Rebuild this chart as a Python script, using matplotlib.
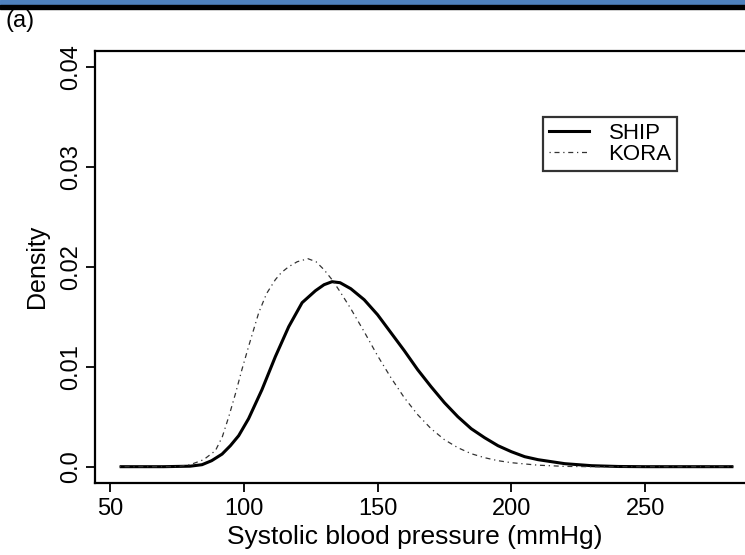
import matplotlib
matplotlib.use("Agg")
import matplotlib.pyplot as plt
from matplotlib.lines import Line2D
from matplotlib.patches import Rectangle

# values
ship_bp = [53.6, 70, 80, 84.4, 88, 91.9, 95, 98.1, 101.8, 106.8, 111.8, 116.8,
           121.8, 126.8, 130, 133, 136, 140, 145, 150, 155, 160, 165, 170, 175,
           180, 185, 190, 195, 200, 205, 210, 220, 230, 240, 250, 283]
ship_dens = [0, 0, 0.00005, 0.0002, 0.0006, 0.00126, 0.0021, 0.0031, 0.0048,
             0.0077, 0.0110, 0.0140, 0.0164, 0.0176, 0.0182, 0.0185, 0.0184,
             0.0178, 0.0167, 0.0152, 0.0134, 0.0116, 0.0097, 0.0080, 0.0064,
             0.0050, 0.0038, 0.0029, 0.0021, 0.0015, 0.0010, 0.0007, 0.0003,
             0.0001, 0.00002, 0, 0]

kora_bp = [53.6, 75, 80, 85, 89.4, 92, 94.4, 97, 99.3, 102, 105.6, 108.5,
           111.8, 114, 116.8, 120, 124, 127, 130, 133, 136, 140, 145, 150, 155,
           160, 165, 170, 175, 180, 185, 190, 195, 200, 210, 220, 230, 283]
kora_dens = [0, 0, 0.0002, 0.0007, 0.0016, 0.0030, 0.0050, 0.0074, 0.0097,
             0.0122, 0.0154, 0.0173, 0.0187, 0.0194, 0.0200, 0.0205, 0.0208,
             0.0205, 0.0197, 0.0187, 0.0175, 0.0158, 0.0135, 0.0111, 0.0089,
             0.0069, 0.0052, 0.0038, 0.0027, 0.0019, 0.0013, 0.0009, 0.0006,
             0.0004, 0.00015, 0.00003, 0, 0]

xticks = [50, 100, 150, 200, 250]
yticks = [0.0, 0.01, 0.02, 0.03, 0.04]
ytick_labels = ["0.0", "0.01", "0.02", "0.03", "0.04"]

plt.rcParams['font.family'] = ['Liberation Sans', 'DejaVu Sans']

fig = plt.figure(figsize=(7.45, 5.55), dpi=100)
ax = fig.add_axes([0.1275, 0.1303, 0.89, 0.7783])

ax.plot(ship_bp, ship_dens, color='black', lw=2.2, solid_capstyle='butt')
ax.plot(kora_bp, kora_dens, color='#333333', lw=0.9, dashes=(1, 3, 4, 3))

ax.set_xlim(44.4, 292.2)
ax.set_ylim(-0.0016, 0.0416)
ax.set_xticks(xticks)
ax.set_yticks(yticks)
ax.set_yticklabels(ytick_labels, rotation=90, va='center')

for lab in ax.get_xticklabels() + ax.get_yticklabels():
    lab.set_fontsize(17)

ax.tick_params(direction='out', length=6.5, width=1.3, pad=3)
ax.tick_params(axis='x', pad=4.5)
for s in ax.spines.values():
    s.set_linewidth(1.6)
ax.spines['right'].set_visible(False)

ax.set_xlabel('Systolic blood pressure (mmHg)', fontsize=19)
ax.xaxis.set_label_coords(0.483, -0.097)
ax.set_ylabel('Density', fontsize=18, labelpad=8)

# legend box
handles = [Line2D([], [], color='black', lw=2.2),
           Line2D([], [], color='#333333', lw=0.9, dashes=(1, 3, 4, 3))]
leg = ax.legend(handles, ['SHIP', 'KORA'], loc='upper left',
                bbox_to_anchor=(0.6757, 0.8465), fontsize=16, frameon=True,
                fancybox=False, edgecolor='black', handlelength=1.8,
                handletextpad=0.9, borderpad=0.25, labelspacing=0.02,
                borderaxespad=0)
leg.get_frame().set_linewidth(1.6)

# header band of the page
fig.patches.append(Rectangle((0, 1 - 5 / 555), 1, 5 / 555, transform=fig.transFigure,
                             color='#4f81bd', zorder=5))
fig.patches.append(Rectangle((0, 1 - 9 / 555), 1, 4 / 555, transform=fig.transFigure,
                             color='black', zorder=5))
fig.text(0.008, 1 - 21 / 555, '(a)', fontsize=17, va='center', ha='left')

fig.savefig('out.png', dpi=100)
